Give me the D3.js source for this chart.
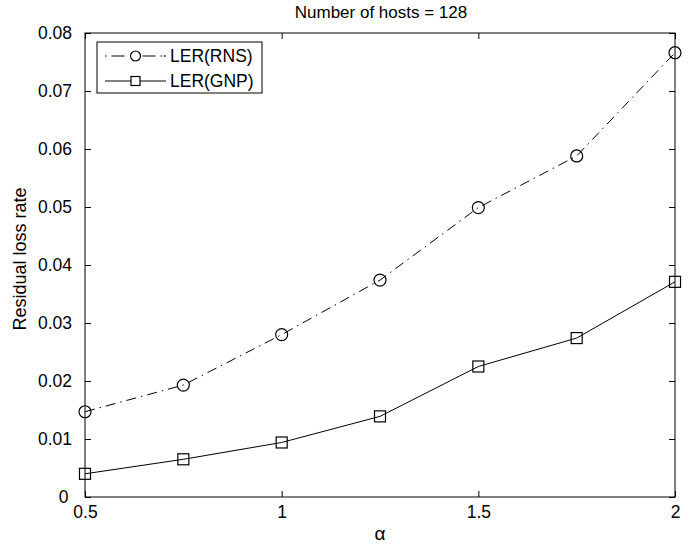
<!DOCTYPE html>
<html><head><meta charset="utf-8">
<script src="https://cdn.jsdelivr.net/npm/d3@7"></script>
<style>body{margin:0;background:#fff}svg{display:block}text{font-family:"Liberation Sans",Arial,sans-serif}</style>
</head><body>
<svg id="c" width="692" height="546"></svg>
<script>
const alpha = [0.5, 0.75, 1, 1.25, 1.5, 1.75, 2];
const rns = [0.0147, 0.0193, 0.0280, 0.0374, 0.0499, 0.0588, 0.0766];
const gnp = [0.0040, 0.0065, 0.0094, 0.0139, 0.0225, 0.0274, 0.0371];
const xTicks = [0.5, 1, 1.5, 2];
const yTicks = [0, 0.01, 0.02, 0.03, 0.04, 0.05, 0.06, 0.07, 0.08];
const seriesNames = ["LER(RNS)", "LER(GNP)"];

const svg = d3.select("#c");
const L = 85, R = 675, T = 33, B = 497;
const FS = 17.5;
const x = d3.scaleLinear().domain([0.5, 2]).range([L, R]);
const y = d3.scaleLinear().domain([0, 0.08]).range([B, T]);

svg.append("rect").attr("x", L).attr("y", T).attr("width", R - L).attr("height", B - T)
  .attr("fill", "none").attr("stroke", "#000").attr("stroke-width", 1);

const tl = 6;
const fmtY = d => d === 0 ? "0" : d3.format(".2f")(d);
const fmtX = d => String(d);
const ax = svg.append("g").attr("transform", `translate(0,${B})`)
  .call(d3.axisBottom(x).tickValues(xTicks).tickSize(-tl).tickPadding(9).tickFormat(fmtX));
const axT = svg.append("g").attr("transform", `translate(0,${T})`)
  .call(d3.axisTop(x).tickValues(xTicks).tickSize(-tl).tickFormat(""));
const ay = svg.append("g").attr("transform", `translate(${L},0)`)
  .call(d3.axisLeft(y).tickValues(yTicks).tickSize(-tl).tickPadding(13).tickFormat(fmtY));
const ayR = svg.append("g").attr("transform", `translate(${R},0)`)
  .call(d3.axisRight(y).tickValues(yTicks).tickSize(-tl).tickFormat(""));
[ax, axT, ay, ayR].forEach(g => {
  g.attr("font-size", FS).attr("font-family", "'Liberation Sans', Arial, sans-serif");
  g.select(".domain").remove();
  g.selectAll("line").attr("stroke", "#000");
  g.selectAll("text").attr("fill", "#000");
});
// the "0" y label sits a little lower-left like the reference
ay.selectAll(".tick text").filter(d => d === 0).attr("dx", "-0.2em");

const line = d3.line().x((d, i) => x(alpha[i])).y(d => y(d));
svg.append("path").datum(rns).attr("d", line).attr("fill", "none")
  .attr("stroke", "#000").attr("stroke-width", 1).attr("stroke-dasharray", "10,5,1.5,5");
svg.append("path").datum(gnp).attr("d", line).attr("fill", "none")
  .attr("stroke", "#000").attr("stroke-width", 1);

svg.append("g").selectAll("circle").data(rns).join("circle")
  .attr("cx", (d, i) => x(alpha[i])).attr("cy", d => y(d)).attr("r", 6)
  .attr("fill", "none").attr("stroke", "#000").attr("stroke-width", 1.2);
svg.append("g").selectAll("rect").data(gnp).join("rect")
  .attr("x", (d, i) => x(alpha[i]) - 5.5).attr("y", d => y(d) - 5.5)
  .attr("width", 11).attr("height", 11)
  .attr("fill", "none").attr("stroke", "#000").attr("stroke-width", 1.2);

// legend
const lg = svg.append("g");
lg.append("rect").attr("x", 97).attr("y", 42).attr("width", 165).attr("height", 51)
  .attr("fill", "#fff").attr("stroke", "#000").attr("stroke-width", 1);
const rows = [56, 81];
lg.append("line").attr("x1", 105).attr("x2", 166).attr("y1", rows[0]).attr("y2", rows[0])
  .attr("stroke", "#000").attr("stroke-dasharray", "1.5,5,13,18,13,5,1.5");
lg.append("circle").attr("cx", 135.5).attr("cy", rows[0]).attr("r", 5).attr("fill", "#fff").attr("stroke", "#000").attr("stroke-width", 1.2);
lg.append("line").attr("x1", 105).attr("x2", 166).attr("y1", rows[1]).attr("y2", rows[1]).attr("stroke", "#000");
lg.append("rect").attr("x", 131).attr("y", rows[1] - 4.5).attr("width", 9).attr("height", 9).attr("fill", "#fff").attr("stroke", "#000").attr("stroke-width", 1.2);
seriesNames.forEach((n, i) => {
  lg.append("text").attr("x", 170).attr("y", rows[i]).attr("dy", "0.36em")
    .attr("font-size", FS).text(n);
});

svg.append("text").attr("x", 381).attr("y", 18).attr("text-anchor", "middle")
  .attr("font-size", 17).text("Number of hosts = 128");
svg.append("text").attr("x", 380).attr("y", 540).attr("text-anchor", "middle")
  .attr("font-size", 19).attr("font-family", "'Liberation Serif', serif").text("α");
svg.append("text").attr("transform", "translate(26,259) rotate(-90)").attr("text-anchor", "middle")
  .attr("font-size", 18).text("Residual loss rate");
</script>
</body></html>
